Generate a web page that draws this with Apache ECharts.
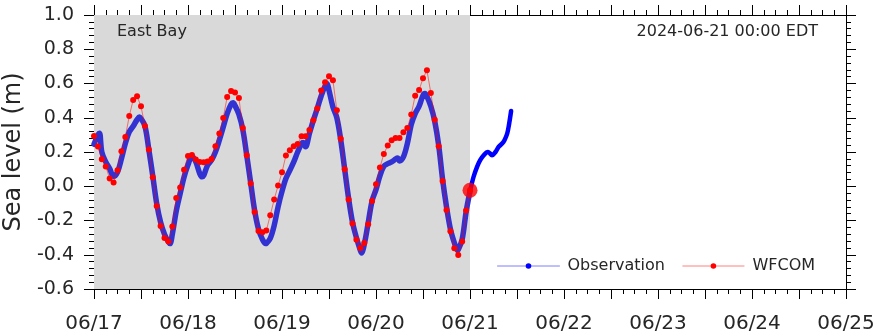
<!DOCTYPE html>
<html><head><meta charset="utf-8">
<script src="https://cdn.jsdelivr.net/npm/echarts@6/dist/echarts.min.js"></script>
<style>html,body{margin:0;padding:0;background:#fff}#c{width:876px;height:334px}</style>
</head><body><div id="c"></div>
<script>
// ---- data ----
const tickLabels = ['06/17','06/18','06/19','06/20','06/21','06/22','06/23','06/24','06/25'];
const stationName = 'East Bay';
const stampText = '2024-06-21 00:00 EDT';

// WFCOM hourly forecast (hours since 06/17 00:00)
const wfHours = [0,1,2,3,4,5,6,7,8,9,10,11,12,13,14,15,16,17,18,19,20,21,22,23,
  24,25,26,27,28,29,30,31,32,33,34,35,36,37,38,39,40,41,42,43,44,45,46,47,
  48,49,50,51,52,53,54,55,56,57,58,59,60,61,62,63,64,65,66,67,68,69,70,71,
  72,73,74,75,76,77,78,79,80,81,82,83,84,85,86,87,88,89,90,91,92,93,94,95,96];
const wfValues = [0.294,0.232,0.158,0.115,0.045,0.022,0.093,0.204,0.288,0.410,0.504,0.525,
  0.467,0.352,0.214,0.052,-0.115,-0.232,-0.302,-0.323,-0.235,-0.068,-0.008,0.097,
  0.177,0.183,0.156,0.142,0.140,0.144,0.159,0.234,0.308,0.399,0.521,0.556,
  0.547,0.515,0.340,0.181,0.016,-0.150,-0.261,-0.269,-0.259,-0.169,-0.078,0.004,
  0.082,0.179,0.210,0.234,0.247,0.292,0.292,0.329,0.385,0.454,0.559,0.607,
  0.642,0.619,0.444,0.278,0.099,-0.078,-0.218,-0.313,-0.360,-0.331,-0.222,-0.086,
  0.012,0.109,0.189,0.238,0.269,0.282,0.282,0.315,0.340,0.419,0.529,0.562,
  0.630,0.677,0.545,0.389,0.234,0.031,-0.138,-0.263,-0.362,-0.401,-0.323,-0.142,-0.023];

// Observation (hours since 06/17 00:00)
const obsHours = [0,1,1.4,2,3,4,5,6,7,8,9,10,11,11.6,12,13,14,15,16,17,18,19,19.4,20,21,22,23,
  24,25,26,27,27.6,28,29,30,31,32,33,34,35,35.5,36,37,38,39,40,41,42,43,43.8,44,45,46,47,
  48,49,50,51,52,53,53.4,54,55,56,57,58,59,59.5,60,61,62,63,64,65,66,67,68,68.3,69,70,71,
  72,73,74,75,76,77,77.5,78,79,80,81,82,83,84,84.5,85,86,87,88,89,90,91,92,92.8,93,94,95,
  96,96.9,97.8,98.6,99.5,100.5,101,101.6,102.5,103.3,104.2,104.8,105.5,106,106.5];
const obsValues = [0.245,0.300,0.310,0.200,0.142,0.103,0.058,0.083,0.160,0.250,0.317,0.350,0.389,0.405,0.395,0.352,0.214,0.060,-0.100,-0.210,-0.280,-0.325,-0.335,-0.280,-0.145,-0.043,0.054,
  0.125,0.175,0.142,0.074,0.055,0.062,0.123,0.152,0.200,0.269,0.346,0.424,0.479,0.487,0.471,0.420,0.330,0.180,0.020,-0.140,-0.250,-0.310,-0.335,-0.334,-0.305,-0.230,-0.120,
  -0.030,0.045,0.093,0.142,0.200,0.249,0.255,0.230,0.308,0.385,0.454,0.527,0.586,0.600,0.560,0.463,0.400,0.270,0.100,-0.070,-0.210,-0.300,-0.375,-0.390,-0.340,-0.215,-0.085,
  -0.020,0.060,0.117,0.132,0.142,0.159,0.165,0.148,0.171,0.249,0.360,0.424,0.467,0.531,0.541,0.525,0.467,0.379,0.240,0.040,-0.120,-0.250,-0.330,-0.375,-0.370,-0.310,-0.150,
  -0.030,0.054,0.113,0.152,0.181,0.200,0.194,0.181,0.200,0.230,0.249,0.269,0.308,0.366,0.440];

const nowHour = 96;

// ---- build ----
const wfData = wfHours.map((h, i) => [h, wfValues[i]]);
const obsPast = [], obsNow = [];
obsHours.forEach((h, i) => {
  if (h <= nowHour) obsPast.push([h, obsValues[i]]);
  if (h >= nowHour) obsNow.push([h, obsValues[i]]);
});
const nowPoint = [[nowHour, wfValues[wfHours.indexOf(nowHour)]]];

const FONT = 'DejaVu Sans';
const TXT = '#262626';
const axisCommon = {
  axisLine: {show: true, onZero: false, lineStyle: {color: '#000', width: 1}},
  axisTick: {show: true, length: 10, lineStyle: {color: '#000', width: 1}},
  minorTick: {show: true, length: 5, lineStyle: {color: '#000', width: 1}},
  splitLine: {show: false}, minorSplitLine: {show: false}
};
const xBase = Object.assign({type: 'value', min: 0, max: 192, interval: 12}, JSON.parse(JSON.stringify(axisCommon)));
xBase.minorTick.splitNumber = 4;
const yBase = Object.assign({type: 'value', min: -0.6, max: 1.0, interval: 0.2}, JSON.parse(JSON.stringify(axisCommon)));
yBase.minorTick.splitNumber = 5;

const chart = echarts.init(document.getElementById('c'), null, {renderer: 'canvas'});
chart.setOption({
  animation: false,
  backgroundColor: '#fff',
  textStyle: {fontFamily: FONT},
  grid: {left: 94, right: 30, top: 15, bottom: 45, containLabel: false, outerBoundsMode: 'none'},
  title: [
    {text: stationName, left: 112, top: 19, textStyle: {fontSize: 16, fontWeight: 'normal', color: TXT, fontFamily: FONT}},
    {text: stampText, right: 53, top: 19, textStyle: {fontSize: 16, fontWeight: 'normal', color: TXT, fontFamily: FONT}}
  ],
  legend: {
    left: 492, top: 253, itemWidth: 62, itemHeight: 7, itemGap: 17,
    textStyle: {fontSize: 16, color: TXT, fontFamily: FONT, padding: [0, 0, 0, 3]},
    data: [
      {name: 'Observation', itemStyle: {color: '#0000ff'}, lineStyle: {color: '#7f7fff', width: 1}},
      {name: 'WFCOM', itemStyle: {color: '#ff0000'}, lineStyle: {color: '#ff8080', width: 1}}
    ]
  },
  xAxis: [
    Object.assign({}, xBase, {position: 'bottom', axisLabel: {fontSize: 20, color: TXT, fontFamily: FONT, margin: 25, interval: 0,
      formatter: v => (v % 24 === 0 ? tickLabels[v / 24] : '')}}),
    Object.assign({}, xBase, {position: 'top', axisLabel: {show: false}})
  ],
  yAxis: [
    Object.assign({}, yBase, {position: 'left', name: 'Sea level (m)', nameLocation: 'middle', nameGap: 68,
      nameTextStyle: {fontSize: 24, color: TXT, fontFamily: FONT},
      axisLabel: {fontSize: 19, color: TXT, fontFamily: FONT, margin: 20,
        formatter: v => (Math.abs(v) < 1e-9 ? '0.0' : v.toFixed(1))}}),
    Object.assign({}, yBase, {position: 'right', axisLabel: {show: false}})
  ],
  series: [
    {name: 'bg', type: 'line', data: [], z: 1, silent: true,
      markArea: {silent: true, itemStyle: {color: '#d9d9d9'}, data: [[{xAxis: 0}, {xAxis: nowHour}]]}},
    {name: 'Observation', type: 'line', data: obsPast, symbol: 'none', smooth: 0.35, z: 3,
      lineStyle: {color: '#3232d2', width: 5.5, cap: 'round', join: 'round'}, itemStyle: {color: '#0000ff'}},
    {name: 'Observation', type: 'line', data: obsNow, symbol: 'none', smooth: 0.35, z: 3,
      lineStyle: {color: '#0000ff', width: 4.5, cap: 'round', join: 'round'}, itemStyle: {color: '#0000ff'}},
    {name: 'WFCOM', type: 'line', data: wfData, symbol: 'circle', symbolSize: 6, showAllSymbol: true, z: 4,
      itemStyle: {color: '#ff0000'}, lineStyle: {color: 'rgba(255,0,0,0.5)', width: 1}},
    {name: 'now', type: 'scatter', data: nowPoint, symbolSize: 15, z: 5, itemStyle: {color: '#ff0000'}}
  ]
});
</script>
</body></html>
